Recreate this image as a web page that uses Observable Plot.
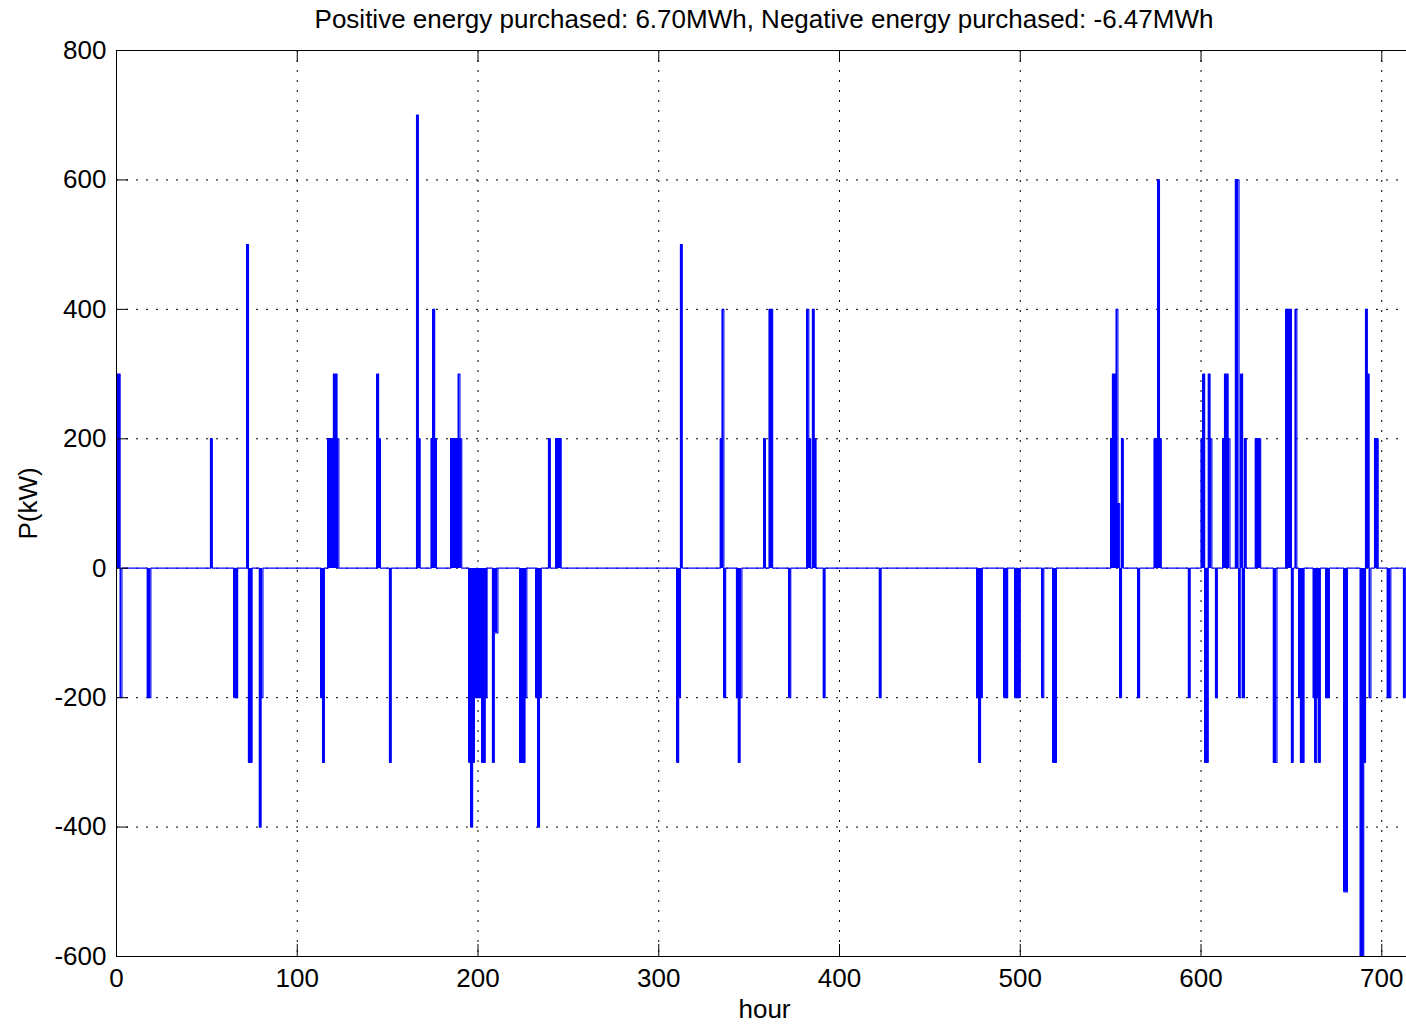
<!DOCTYPE html>
<html>
<head>
<meta charset="utf-8">
<script src="https://cdn.jsdelivr.net/npm/d3@7"></script>
<script src="https://cdn.jsdelivr.net/npm/@observablehq/plot@0.6"></script>
<style>
  html, body { margin: 0; padding: 0; background: #fff; overflow: hidden; width: 1406px; height: 1026px; }
  #title { position: absolute; left: 116px; top: 4px; width: 1296px; height: 36px; line-height: 38px;
           text-align: center; font: 26px "Liberation Sans", Arial, sans-serif; color: #000; white-space: nowrap; }
  #chart { position: absolute; left: 0; top: 20px; width: 1414px; }
  #chart svg { max-width: none !important; }
</style>
</head>
<body>
<div id="chart"></div>
<div id="title"></div>
<script>
// ---- data ----
const titleText = "Positive energy purchased: 6.70MWh, Negative energy purchased: -6.47MWh";
const xLabel = "hour";
const yLabel = "P(kW)";

// hours with a non-zero purchase (all other hours are 0 kW)
const eventHours = [
  0, 1, 2,
  17, 18,
  52,
  65, 66,
  72,
  73, 74,
  79, 80,
  113, 114,
  117, 118, 119, 120, 121, 122,
  144, 145,
  151,
  166, 167,
  174, 175, 176,
  185, 186, 187, 188, 189, 190,
  195, 196, 197, 198, 199, 200, 201, 202, 203, 204,
  208, 209, 210,
  223, 224, 225, 226,
  232, 233, 234,
  239,
  243, 244, 245,
  310, 311,
  312,
  334, 335, 336,
  343, 344, 345,
  358,
  361, 362,
  372,
  382, 383,
  385, 386,
  391,
  422,
  476, 477, 478,
  491, 492,
  497, 498, 499,
  512,
  518, 519,
  550, 551, 552, 553, 554, 555, 556,
  565,
  574, 575, 576, 577,
  593,
  600, 601, 602, 603, 604, 605,
  608,
  612, 613, 614, 615,
  619, 620, 621, 622, 623, 624,
  630, 631, 632,
  640, 641,
  647, 648, 649, 650,
  652,
  654, 655, 656,
  662, 663, 664, 665,
  669, 670,
  679, 680,
  688, 689, 690, 691, 692, 693,
  696, 697,
  703, 704,
  712
];
// power (kW) at those hours
const eventPower = [
  300, 300, -200,
  -200, -200,
  200,
  -200, -200,
  500,
  -300, -300,
  -400, -200,
  -200, -300,
  200, 200, 200, 300, 300, 200,
  300, 200,
  -300,
  700, 200,
  200, 400, 200,
  200, 200, 200, 200, 300, 200,
  -300, -400, -300, -200, -200, -200, -200, -300, -300, -200,
  -300, -100, -100,
  -300, -300, -300, -200,
  -200, -400, -200,
  200,
  200, 200, 200,
  -300, -200,
  500,
  200, 400, -200,
  -200, -300, -200,
  200,
  400, 400,
  -200,
  400, 200,
  400, 200,
  -200,
  -200,
  -200, -300, -200,
  -200, -200,
  -200, -200, -200,
  -200,
  -300, -300,
  200, 300, 300, 400, 100, -200, 200,
  -200,
  200, 200, 600, 200,
  -200,
  200, 300, -300, -300, 300, 200,
  -200,
  200, 300, 300, 200,
  600, 600, -200, 300, -200, 200,
  200, 200, 200,
  -300, -300,
  400, 400, 400, -300,
  400,
  -200, -300, -300,
  -200, -300, -200, -300,
  -200, -200,
  -500, -500,
  -600, -600, -300, 400, 300, -200,
  200, 200,
  -200, -200,
  -200
];

const xTicks = [0, 100, 200, 300, 400, 500, 600, 700];
const yTicks = [-600, -400, -200, 0, 200, 400, 600, 800];
const xDomain = [0, 717];
const yDomain = [-600, 800];

// ---- build the hourly table ----
const powerByHour = new Map(eventHours.map((h, i) => [h, eventPower[i]]));
const series = d3.range(xDomain[0], xDomain[1] + 1).map(h => ({hour: h, next: h + 1, p: powerByHour.get(h) ?? 0}));

document.getElementById("title").textContent = titleText;

const W = 1414, H = 1006, mL = 116, mR = 2, mT = 30, mB = 70;
const frameW = W - mL - mR, frameH = H - mT - mB;
const tickLen = 12;
const font = '"Liberation Sans", Arial, sans-serif';
const fmt = d => String(d);
const blue = "#0000ff";

const chart = Plot.plot({
  width: W, height: H,
  marginLeft: mL, marginRight: mR, marginTop: mT, marginBottom: mB,
  style: {fontFamily: font, fontSize: "26px", color: "#000", background: "transparent", maxWidth: "none"},
  x: {domain: xDomain, ticks: xTicks, tickFormat: fmt, label: null},
  y: {domain: yDomain, ticks: yTicks, tickFormat: fmt, label: null},
  marks: [
    Plot.gridX(xTicks, {stroke: "#000", strokeOpacity: 1, strokeWidth: 1, strokeDasharray: "2,8"}),
    Plot.gridY(yTicks, {stroke: "#000", strokeOpacity: 1, strokeWidth: 1, strokeDasharray: "2,8"}),
    Plot.rectY(series, {filter: d => d.p !== 0, x1: "hour", x2: "next", y: "p", fill: blue, clip: true, shapeRendering: "crispEdges"}),
    Plot.line(series, {x: "hour", y: "p", curve: "step-after", stroke: blue, strokeWidth: 1.2, clip: true}),
    Plot.frame({stroke: "#000", strokeWidth: 1}),
    Plot.tickX(xTicks, {x: d => d, stroke: "#000", insetBottom: frameH - tickLen}),
    Plot.tickX(xTicks, {x: d => d, stroke: "#000", insetTop: frameH - tickLen}),
    Plot.tickY(yTicks, {y: d => d, stroke: "#000", insetRight: frameW - tickLen}),
    Plot.axisX(xTicks, {tickSize: 0, tickPadding: 12, tickFormat: fmt, label: null, fontSize: 26}),
    Plot.axisY(yTicks, {tickSize: 0, tickPadding: 10, tickFormat: fmt, label: null, fontSize: 26}),
    Plot.text([yLabel], {text: d => d, frameAnchor: "left", dx: -88, rotate: -90, textAnchor: "middle", lineAnchor: "middle", fontSize: 26, fill: "#000"}),
    Plot.text([xLabel], {text: d => d, frameAnchor: "bottom", dy: 53, textAnchor: "middle", lineAnchor: "middle", fontSize: 26, fill: "#000"})
  ]
});
document.getElementById("chart").appendChild(chart);
</script>
</body>
</html>
